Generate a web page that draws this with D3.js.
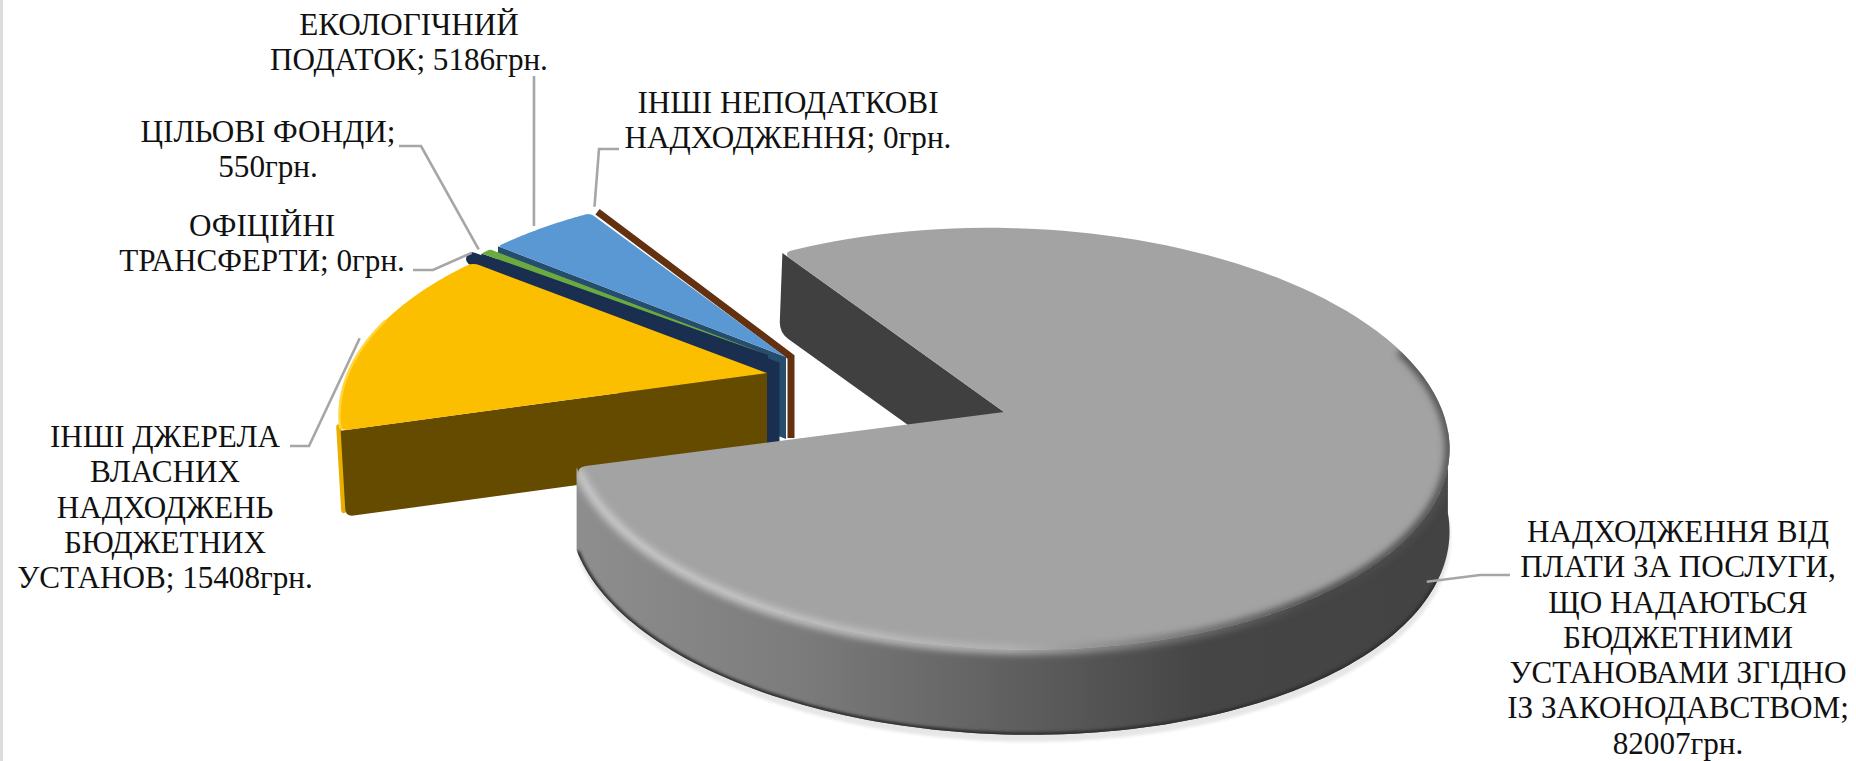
<!DOCTYPE html>
<html lang="uk">
<head>
  <meta charset="UTF-8">
  <title>Pie</title>
  <style>
    body { margin: 0; background: #fff; }
    svg { display: block; }
    text { font-family: "Liberation Serif", serif; fill: #111; }
  </style>
</head>
<body>
  <script src="https://d3js.org/d3.v7.min.js"></script>
  <script>
    const categories = [
      'НАДХОДЖЕННЯ ВІД ПЛАТИ ЗА ПОСЛУГИ, ЩО НАДАЮТЬСЯ БЮДЖЕТНИМИ УСТАНОВАМИ ЗГІДНО ІЗ ЗАКОНОДАВСТВОМ',
      'ІНШІ ДЖЕРЕЛА ВЛАСНИХ НАДХОДЖЕНЬ БЮДЖЕТНИХ УСТАНОВ',
      'ОФІЦІЙНІ ТРАНСФЕРТИ',
      'ЦІЛЬОВІ ФОНДИ',
      'ЕКОЛОГІЧНИЙ ПОДАТОК',
      'ІНШІ НЕПОДАТКОВІ НАДХОДЖЕННЯ'
    ];
    const values = [82007, 15408, 0, 550, 5186, 0];
    const unit = 'грн.';
    // how many words go on each line of a label (the value counts as one word)
    const labelWrap = [
      [2, 3, 2, 1, 2, 2, 1],
      [2, 1, 1, 1, 2],
      [1, 2],
      [2, 1],
      [1, 2],
      [2, 2]
    ];

    const [width, height] = [1856, 761];
    const rad = d => d * Math.PI / 180;

    // top colour, wall colour per slice
    const topColors = ['#a3a3a3', '#fbbf00', '#1a2e50', '#6aaa3f', '#5a98d4', '#633010'];
    const wallColors = ['#404040', '#654b00', '#1a2e50', '#1a2e50', '#264d6e', '#633010'];

    // every slice is pulled out of the pie on its own, and the camera gives a perspective (p)
    const geo = [
      { cx: 1006, cy: 405, A: 434, B: 205.6, p: 0.16, shear: 0.1, apexDx: -2, apexDy: 7, depth: 82, tilt: 3, lowerDx: -3, corner: 11 },
      { cx: 767, cy: 369, A: 417, B: 200, p: 0.22, shear: 0, apexDx: 0, apexDy: 4, depth: 86, tilt: 0, lowerDx: 5, corner: 8 },
      { cx: 773, cy: 367, A: 410, B: 196, p: 0.15, shear: 0, apexDx: 0, apexDy: 0, depth: 82, tilt: 0, lowerDx: 0, strip: 13 },
      { cx: 768, cy: 355, A: 391, B: 184, p: 0.15, shear: 0, apexDx: 0, apexDy: 0, depth: 82, tilt: 0, lowerDx: 0, corner: 2 },
      { cx: 786, cy: 357, A: 405, B: 193, p: 0.15, shear: 0, apexDx: 0, apexDy: 0, depth: 82, tilt: 0, lowerDx: 0, corner: 4 },
      { cx: 791, cy: 357, A: 400, B: 195, p: 0.15, shear: 0, apexDx: 0, apexDy: 0, depth: 81, tilt: 0, lowerDx: 0, strip: 7 }
    ];

    // label placement: centre x, first baseline, leader elbow + end, offset of the leader tip from the rim
    const labelPos = [
      { x: 1678, y: 542, knee: [1480, 575], end: [1510, 575], tip: [-18, 102] },
      { x: 165, y: 447, knee: [309, 446], end: [290, 446], tip: [-12, 3] },
      { x: 262, y: 236, knee: [433, 270], end: [413, 270], tip: [-1, -6] },
      { x: 268, y: 142, knee: [421, 146], end: [399, 146], tip: [-7, -2] },
      { x: 409, y: 35, knee: [534, 100], end: [534, 76], tip: [-8, -2] },
      { x: 788, y: 113, knee: [599, 149], end: [619, 149], tip: [-3, -5] }
    ];

    const svg = d3.select('body').append('svg').attr('width', width).attr('height', height);
    const defs = svg.append('defs');

    svg.append('rect').attr('width', 3).attr('height', height).attr('fill', '#dddddd');

    const pie = d3.pie().sort(null).value(d => d).startAngle(rad(-33)).endAngle(rad(327));
    const slices = pie(values);

    function rim(g, a, lower) {
      const u = Math.sin(a), v = Math.cos(a), d = 1 + g.p * v;
      const yOff = -g.B * v / d;
      const x = g.cx + g.A * u / d + g.shear * yOff;
      const y = g.cy + yOff;
      return lower ? [x, y + g.depth - g.tilt * v] : [x, y];
    }
    const apex = g => [g.cx + g.apexDx, g.cy + g.apexDy];
    const drop = (pt, g) => [pt[0], pt[1] + g.depth];
    const towards = (a, b, px) => {
      const l = Math.hypot(b[0] - a[0], b[1] - a[1]);
      return [a[0] + (b[0] - a[0]) * px / l, a[1] + (b[1] - a[1]) * px / l];
    };
    const sweep = (g, a0, a1, lower) => d3.range(0, 121).map(i => rim(g, a0 + (a1 - a0) * i / 120, lower));
    const line = d3.line();

    // top of a wedge, corners rounded off a little
    function wedgePath(g, a0, a1) {
      const c0 = rim(g, a0), c1 = rim(g, a1), ap = apex(g);
      const inset = Math.min(g.corner / g.A * 1.1, (a1 - a0) / 4);
      const arc = sweep(g, a0 + inset, a1 - inset);
      const n0 = towards(c0, ap, g.corner), n1 = towards(c1, ap, g.corner);
      return `M${ap}L${n0}Q${c0} ${arc[0]}` + arc.map(p => `L${p}`).join('') + `Q${c1} ${n1}Z`;
    }

    // bottom outer corner of a cut face
    function wallFoot(g, a) {
      const low = rim(g, a, true);
      return [low[0] + g.lowerDx, low[1]];
    }

    // cut face of a wedge, going down from the edge apex - rim
    function wallPath(g, a) {
      const c = rim(g, a), ap = apex(g), bAp = drop(ap, g);
      const b = wallFoot(g, a);
      const r = g.corner || 0;
      const n1 = towards(b, c, r), n2 = towards(b, bAp, r);
      return `M${ap}L${c}L${n1}Q${b} ${n2}L${bAp}Z`;
    }

    // outer wall between two angles
    function outerPath(g, a0, a1) {
      return line(sweep(g, a0, a1).concat(sweep(g, a1, a0, true))) + 'Z';
    }

    // gradients + filters for the big grey slice
    const sideGrad = defs.append('linearGradient').attr('id', 'side')
      .attr('gradientUnits', 'userSpaceOnUse').attr('x1', 578).attr('x2', 1445).attr('y1', 0).attr('y2', 0);
    [[0, '#8e8e8e'], [0.25, '#7c7c7c'], [0.53, '#5c5c5c'], [0.72, '#454545'], [1, '#434343']]
      .forEach(s => sideGrad.append('stop').attr('offset', s[0]).attr('stop-color', s[1]));

    const bevelGrad = defs.append('linearGradient').attr('id', 'bevel')
      .attr('gradientUnits', 'userSpaceOnUse').attr('x1', 578).attr('x2', 1445).attr('y1', 0).attr('y2', 0);
    [[0, '#c8c8c8'], [0.2, '#c6c6c6'], [0.5, '#b2b2b2'], [0.66, '#7c7c7c'], [0.85, '#484848'], [1, '#505050']]
      .forEach(s => bevelGrad.append('stop').attr('offset', s[0]).attr('stop-color', s[1]));

    [['blur1', 1.5], ['blur3', 3.5]].forEach(f => {
      defs.append('filter').attr('id', f[0])
        .attr('x', '-5%').attr('y', '-5%').attr('width', '110%').attr('height', '110%')
        .append('feGaussianBlur').attr('stdDeviation', f[1]);
    });

    const greyEnd = slices[0].endAngle;
    const frontFrom = rad(97);
    const g0 = geo[0];

    // soft shadow under the grey slice
    svg.append('path')
      .attr('d', line(sweep(g0, frontFrom, greyEnd, true).map(p => [p[0] + 1, p[1] + 7])) + 'Z')
      .attr('fill', '#e6e6e6').attr('filter', 'url(#blur1)');

    // back to front, the grey slice comes last
    d3.range(slices.length - 1, -1, -1).forEach(i => {
      const s = slices[i], g = geo[i];
      if (g.strip) {
        // zero value: only a flat strip is left of the slice
        const c = rim(g, s.startAngle), ap = apex(g);
        svg.append('path')
          .attr('d', `M${c}L${ap}L${drop(ap, g)}`)
          .attr('fill', 'none').attr('stroke', topColors[i])
          .attr('stroke-width', g.strip).attr('stroke-linejoin', 'miter')
          .attr('stroke-linecap', i === 2 ? 'round' : 'butt');
        if (i === 2) {
          svg.append('path').attr('d', line([c, rim(g, s.startAngle, true), drop(ap, g), ap]) + 'Z')
            .attr('fill', topColors[i]);
        }
        return;
      }
      if (i === 1) {
        // the yellow edge runs down beside the cut face
        const c = rim(g, s.startAngle), b = wallFoot(g, s.startAngle);
        svg.append('path').attr('d', line([[c[0] - 2, c[1] - 4], [b[0] - 2, b[1] - 6]]))
          .attr('fill', 'none').attr('stroke', '#e8ae00').attr('stroke-width', 5).attr('stroke-linecap', 'round');
      }
      svg.append('path').attr('class', 'wall').attr('d', wallPath(g, s.startAngle)).attr('fill', wallColors[i]);
      if (i === 0) {
        const outline = defs.append('clipPath').attr('id', 'greyBody');
        outline.append('path').attr('d', outerPath(g, frontFrom, s.endAngle));
        outline.append('path').attr('d', wedgePath(g, s.startAngle, s.endAngle));
        svg.append('path').attr('d', outerPath(g, frontFrom, s.endAngle)).attr('fill', 'url(#side)');
      }
      svg.append('path').attr('d', wedgePath(g, s.startAngle, s.endAngle)).attr('fill', topColors[i]);
      if (i === 1) {
        svg.append('path').attr('d', line(sweep(g, s.startAngle + 0.01, rad(285))))
          .attr('fill', 'none').attr('stroke', '#ffd640').attr('stroke-width', 2.5);
      }
      if (i === 0) {
        const body = svg.append('g').attr('clip-path', 'url(#greyBody)');
        body.append('path').attr('d', line(sweep(g, rad(115), s.endAngle - 0.006, true)))
          .attr('fill', 'none').attr('stroke', '#2e2e2e').attr('stroke-width', 5).attr('filter', 'url(#blur1)');
        body.append('path').attr('d', line(sweep(g, rad(74), s.endAngle - 0.01)))
          .attr('fill', 'none').attr('stroke', 'url(#bevel)').attr('stroke-width', 9).attr('filter', 'url(#blur3)');
      }
    });

    // leaders
    const leaders = svg.append('g').attr('fill', 'none').attr('stroke', '#a6a6a6').attr('stroke-width', 2.6);
    slices.forEach((s, i) => {
      const l = labelPos[i];
      const mid = (s.startAngle + s.endAngle) / 2;
      const p = rim(geo[i], mid);
      const tip = [p[0] + l.tip[0], p[1] + l.tip[1]];
      leaders.append('path').attr('d', line([tip, l.knee, l.end]));
    });

    // labels, stretched a little sideways like the picture
    const fontSize = 31, lineStep = 35.3, squeeze = 1.005;
    const labels = svg.append('g').attr('font-size', fontSize).attr('text-anchor', 'middle');
    categories.forEach((c, i) => {
      const words = `${c}; ${values[i]}${unit}`.split(' ');
      let w = 0;
      const rows = labelWrap[i].map(n => { const r = words.slice(w, w + n).join(' '); w += n; return r; });
      const t = labels.append('text')
        .attr('transform', `translate(${labelPos[i].x},${labelPos[i].y}) scale(${squeeze},1)`);
      rows.forEach((r, k) => t.append('tspan').attr('x', 0).attr('y', k * lineStep).text(r));
    });
  </script>
</body>
</html>
